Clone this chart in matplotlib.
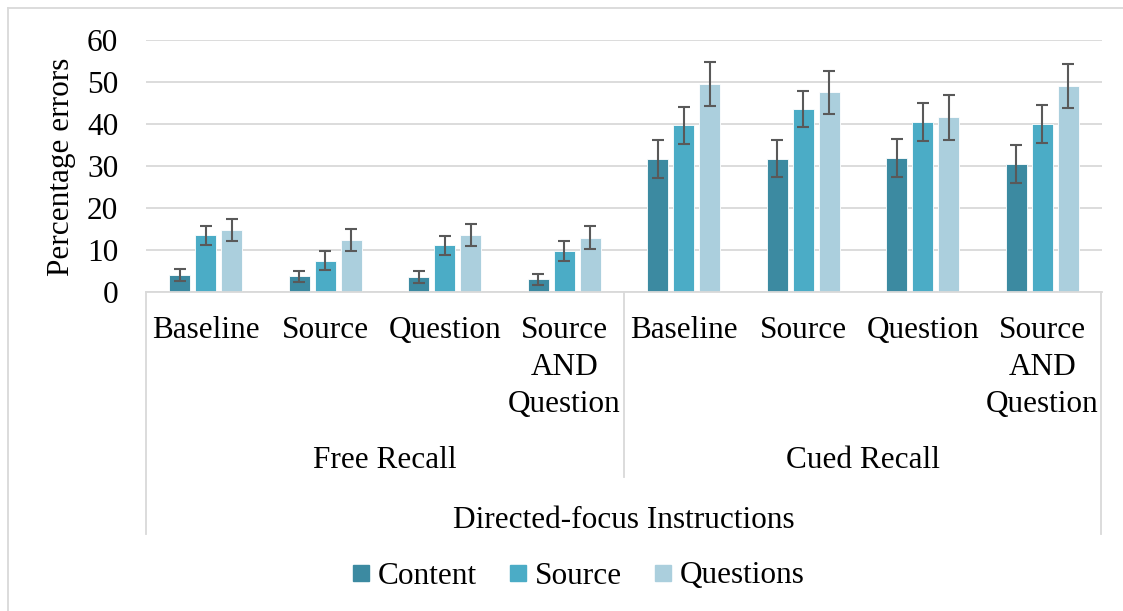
import matplotlib.pyplot as plt
from matplotlib.lines import Line2D
import numpy as np

plt.rcParams['font.family'] = ['Liberation Serif', 'DejaVu Serif']

# Data
conditions = ["Baseline", "Source", "Question", "Source\nAND\nQuestion"]
recall_types = ["Free Recall", "Cued Recall"]
outer_label = "Directed-focus Instructions"
series = ["Content", "Source", "Questions"]

content = [4.1, 3.8, 3.5, 3.0, 31.6, 31.7, 31.9, 30.5]
source = [13.5, 7.5, 11.1, 9.8, 39.7, 43.5, 40.5, 40.0]
questions = [14.8, 12.4, 13.5, 12.9, 49.5, 47.6, 41.6, 49.0]

content_err = [1.4, 1.3, 1.4, 1.4, 4.5, 4.4, 4.45, 4.5]
source_err = [2.3, 2.3, 2.3, 2.3, 4.45, 4.3, 4.45, 4.45]
questions_err = [2.7, 2.6, 2.65, 2.7, 5.2, 5.1, 5.3, 5.3]

colors = ["#3C8AA1", "#4BACC6", "#ABCFDD"]
grid_col = "#D9D9D9"
fs = 22.5

W, H = 1123, 611
fig = plt.figure(figsize=(W / 100, H / 100), dpi=100)
ax = fig.add_axes([146 / W, 1 - 292 / H, (1102 - 146) / W, (292 - 40) / H])

x = np.arange(len(content)) + 0.5
pitch = 0.218
width = 0.176
vals = [content, source, questions]
errs = [content_err, source_err, questions_err]
for k in range(3):
    ax.bar(x + (k - 1) * pitch, vals[k], width, color=colors[k],
           edgecolor="white", linewidth=0.6, zorder=2)
    ax.errorbar(x + (k - 1) * pitch, vals[k], yerr=errs[k], fmt="none",
                ecolor="#595959", elinewidth=1.5, capsize=4.3, capthick=1.5, zorder=3)

ax.set_xlim(0, len(content))
ax.set_ylim(0, 60)
ax.set_yticks(range(0, 61, 10))
ax.yaxis.grid(True, color=grid_col, linewidth=1.3)
ax.set_axisbelow(True)
for s in ["top", "right", "left"]:
    ax.spines[s].set_visible(False)
ax.spines["bottom"].set_color(grid_col)
ax.spines["bottom"].set_linewidth(1.3)
ax.tick_params(axis="y", length=0, pad=20, labelsize=fs)
ax.set_xticks([])

# multi-level category axis
def fy(py):
    return 1 - py / H

def fx(px):
    return px / W

for i, xi in enumerate(x):
    px = 146 + xi * (1102 - 146) / len(content)
    fig.text(fx(px), fy(316), conditions[i % 4], ha="center", va="top",
             fontsize=fs, linespacing=1.36)

for j, name in enumerate(recall_types):
    px = 146 + (j + 0.5) * (1102 - 146) / 2
    fig.text(fx(px), fy(461), name, ha="center", va="center", fontsize=fs)
fig.text(fx(624), fy(520), outer_label, ha="center", va="center", fontsize=fs)

sep = dict(color=grid_col, linewidth=1.3, transform=fig.transFigure)
fig.add_artist(Line2D([fx(146), fx(146)], [fy(292), fy(534)], **sep))
fig.add_artist(Line2D([fx(1101), fx(1101)], [fy(292), fy(534)], **sep))
fig.add_artist(Line2D([fx(624), fx(624)], [fy(292), fy(477)], **sep))

# chart border
fig.add_artist(Line2D([fx(8), fx(8)], [fy(8), 0], **sep))
fig.add_artist(Line2D([fx(8), 1], [fy(8), fy(8)], **sep))

fig.text(fx(62), fy(167), "Percentage errors", rotation=90, ha="center",
         va="center", fontsize=fs)

handles = [Line2D([], [], marker="s", linestyle="none", markersize=11.5,
                  markerfacecolor=c, markeredgecolor=c) for c in colors]
fig.legend(handles, series, loc="center", bbox_to_anchor=(fx(575), fy(576)),
           ncol=3, frameon=False, fontsize=fs, handletextpad=0.05,
           columnspacing=0.8, handlelength=1.0)

fig.savefig("out.png", dpi=100)
